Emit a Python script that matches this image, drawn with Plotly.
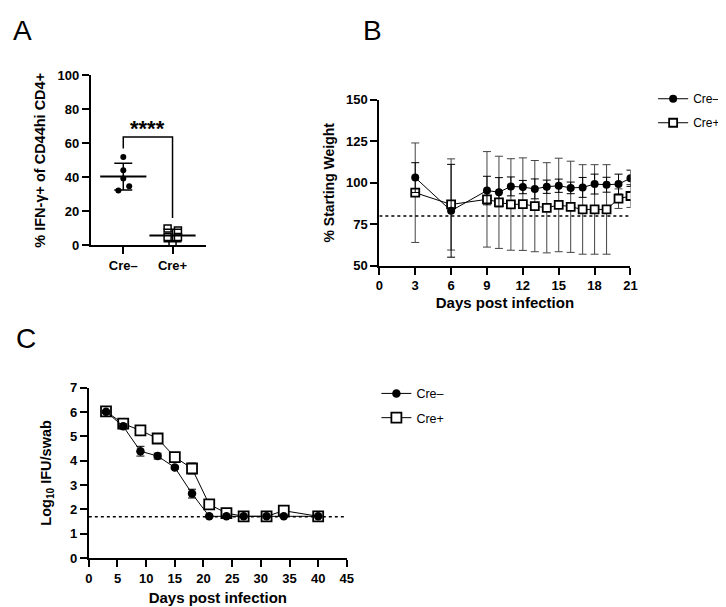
import numpy as np
import plotly.graph_objects as go

W, H = 726, 607
FONT = "Liberation Sans"

# ---------------- Panel A data ----------------
a_groups = ["Cre–", "Cre+"]
a_cre_neg = [51.9, 44.1, 39.3, 34.7, 32.2]
a_cre_pos = [9.8, 8.6, 4.8, 4.8, 0.6]
a_neg_jitter = [0.0, 0.0, 0.0, 0.12, -0.10]
a_pos_jitter = [-0.10, 0.11, -0.10, 0.11, 0.0]
a_yticks = [0, 20, 40, 60, 80, 100]
a_sig = "****"

# ---------------- Panel B data ----------------
b_days = [3, 6, 9, 10, 11, 12, 13, 14, 15, 16, 17, 18, 19, 20, 21]
b_neg = [103.1, 83.1, 95.3, 94.3, 97.8, 97.4, 96.3, 97.6, 98.2, 96.9, 97.2, 99.2, 98.8, 99.2, 102.7]
b_neg_sd = [9.0, 28.0, 8.6, 8.8, 5.7, 4.0, 6.0, 4.0, 4.0, 3.5, 6.0, 6.0, 4.5, 6.0, 4.9]
b_pos = [94.0, 86.9, 90.0, 88.2, 86.9, 87.1, 85.9, 84.9, 86.6, 85.5, 83.9, 83.9, 83.9, 90.4, 92.0]
b_pos_sd = [30.0, 27.5, 28.8, 27.8, 27.6, 27.9, 27.5, 27.2, 28.2, 27.5, 27.0, 27.0, 27.0, 5.9, 6.9]
b_threshold = 80
b_xticks = [0, 3, 6, 9, 12, 15, 18, 21]
b_yticks = [50, 75, 100, 125, 150]

# ---------------- Panel C data ----------------
c_days = [3, 6, 9, 12, 15, 18, 21, 24, 27, 31, 34, 40]
c_neg = [6.01, 5.41, 4.39, 4.19, 3.72, 2.65, 1.72, 1.72, 1.72, 1.72, 1.72, 1.72]
c_neg_sd = [0.05, 0.10, 0.20, 0.12, 0.06, 0.18, 0.03, 0.03, 0.0, 0.0, 0.03, 0.0]
c_pos = [6.02, 5.52, 5.24, 4.91, 4.15, 3.68, 2.21, 1.85, 1.72, 1.72, 1.95, 1.72]
c_pos_sd = [0.05, 0.08, 0.08, 0.08, 0.10, 0.22, 0.08, 0.05, 0.0, 0.0, 0.10, 0.0]
c_limit = 1.7
c_xticks = [0, 5, 10, 15, 20, 25, 30, 35, 40, 45]
c_yticks = [0, 1, 2, 3, 4, 5, 6, 7]


def px_x(p):
    return p / W


def px_y(p):
    return 1 - p / H


fig = go.Figure()

# ---------- Panel A ----------
xa_neg = [0 + j for j in a_neg_jitter]
xa_pos = [1 + j for j in a_pos_jitter]
fig.add_trace(go.Scatter(x=xa_neg, y=a_cre_neg, mode="markers", xaxis="x", yaxis="y",
                         marker=dict(symbol="circle", size=6, color="black"), showlegend=False))
fig.add_trace(go.Scatter(x=xa_pos, y=a_cre_pos, mode="markers", xaxis="x", yaxis="y",
                         marker=dict(symbol="square-open", size=7, color="black", line=dict(width=1.5)),
                         showlegend=False))
means = [float(np.mean(a_cre_neg)), float(np.mean(a_cre_pos))]
sds = [float(np.std(a_cre_neg, ddof=1)), float(np.std(a_cre_pos, ddof=1))]
fig.add_trace(go.Scatter(x=[0, 1], y=means, mode="markers", xaxis="x", yaxis="y",
                         marker=dict(symbol="line-ew", size=33, color="black", line=dict(width=2, color="black")),
                         error_y=dict(type="data", array=sds, color="black", thickness=1.5, width=9),
                         showlegend=False))
# significance bracket
fig.add_trace(go.Scatter(x=[0, 0, 1, 1], y=[57, 63.8, 63.8, 16], mode="lines", xaxis="x", yaxis="y",
                         line=dict(color="black", width=1.5), showlegend=False))

# ---------- Panel B ----------
fig.add_trace(go.Scatter(x=b_days, y=b_pos, mode="lines+markers", xaxis="x2", yaxis="y2", name="Cre+",
                         line=dict(color="black", width=1),
                         marker=dict(symbol="square", size=8, color="white", line=dict(width=1.8, color="black")),
                         error_y=dict(type="data", array=b_pos_sd, color="#444", thickness=1, width=4),
                         legend="legend", legendrank=2, legendgroup="bp"))
fig.add_trace(go.Scatter(x=b_days, y=b_neg, mode="lines+markers", xaxis="x2", yaxis="y2", name="Cre–",
                         line=dict(color="black", width=1),
                         marker=dict(symbol="circle", size=8, color="black"),
                         error_y=dict(type="data", array=b_neg_sd, color="black", thickness=1, width=4),
                         legend="legend", legendrank=1, legendgroup="bn"))

# ---------- Panel C ----------
fig.add_trace(go.Scatter(x=c_days, y=c_pos, mode="lines+markers", xaxis="x3", yaxis="y3", name="Cre+",
                         line=dict(color="black", width=1),
                         marker=dict(symbol="square", size=10, color="white", line=dict(width=1.8, color="black")),
                         error_y=dict(type="data", array=c_pos_sd, color="black", thickness=1, width=4),
                         legend="legend2", legendrank=2, legendgroup="cp"))
fig.add_trace(go.Scatter(x=c_days, y=c_neg, mode="lines+markers", xaxis="x3", yaxis="y3", name="Cre–",
                         line=dict(color="black", width=1),
                         marker=dict(symbol="circle", size=8.5, color="black"),
                         error_y=dict(type="data", array=c_neg_sd, color="black", thickness=1, width=4),
                         legend="legend2", legendrank=1, legendgroup="cn"))

tickfont = dict(family=FONT, size=13, color="black", weight="bold")
axis_common = dict(showline=True, linewidth=2, linecolor="black", ticks="outside", ticklen=7,
                   tickwidth=1.5, tickcolor="black", showgrid=False, zeroline=False,
                   tickfont=tickfont, fixedrange=True)

fig.update_layout(
    width=W, height=H, margin=dict(l=0, r=0, t=0, b=0),
    paper_bgcolor="white", plot_bgcolor="white",
    font=dict(family=FONT, color="black"),
    xaxis=dict(domain=[px_x(80), px_x(197)], range=[-0.66, 1.68], anchor="y",
               tickvals=[0, 1], ticktext=a_groups, **axis_common),
    yaxis=dict(domain=[px_y(236), px_y(62)], range=[0, 100], anchor="x", tickvals=a_yticks,
               title=dict(text="% IFN-γ+ of CD44hi CD4+", standoff=8,
                          font=dict(family=FONT, size=14.5, weight="bold", color="black")),
               **axis_common),
    xaxis2=dict(domain=[px_x(373), px_x(628)], range=[0, 21], anchor="y2", tickvals=b_xticks,
                title=dict(text="Days post infection", standoff=5,
                           font=dict(family=FONT, size=15, weight="bold", color="black")),
                **axis_common),
    yaxis2=dict(domain=[px_y(257), px_y(87)], range=[50, 150], anchor="x2", tickvals=b_yticks,
                title=dict(text="% Starting Weight", standoff=8,
                           font=dict(family=FONT, size=14, weight="bold", color="black")),
                **axis_common),
    xaxis3=dict(domain=[px_x(78), px_x(340)], range=[0, 45], anchor="y3", tickvals=c_xticks,
                title=dict(text="Days post infection", standoff=8,
                           font=dict(family=FONT, size=15, weight="bold", color="black")),
                **axis_common),
    yaxis3=dict(domain=[px_y(557), px_y(382)], range=[0, 7], anchor="x3", tickvals=c_yticks,
                title=dict(text="Log<sub>10</sub> IFU/swab", standoff=15,
                           font=dict(family=FONT, size=14.5, weight="bold", color="black")),
                **axis_common),
    legend=dict(x=px_x(651), y=px_y(71), xanchor="left", yanchor="top", itemwidth=30,
                font=dict(family=FONT, size=12, color="black"), tracegroupgap=5,
                bgcolor="rgba(0,0,0,0)"),
    legend2=dict(x=px_x(370), y=px_y(373), xanchor="left", yanchor="top", itemwidth=30,
                 font=dict(family=FONT, size=12.5, color="black"), tracegroupgap=5,
                 bgcolor="rgba(0,0,0,0)"),
    shapes=[
        dict(type="line", xref="x2", yref="y2", x0=0, x1=21, y0=b_threshold, y1=b_threshold,
             line=dict(color="black", width=1.5, dash="dot")),
        dict(type="line", xref="x3", yref="y3", x0=0, x1=45, y0=c_limit, y1=c_limit,
             line=dict(color="black", width=1.5, dash="dot")),
    ],
    annotations=[
        dict(text=a_sig, x=0.5, y=63.8, xref="x", yref="y", showarrow=False, yanchor="bottom",
             yshift=-6, font=dict(family=FONT, size=22, weight="bold", color="black")),
        dict(text="A", x=px_x(-1), y=px_y(-2.5), xref="paper", yref="paper", xanchor="left", yanchor="top",
             showarrow=False, font=dict(family=FONT, size=28, color="black")),
        dict(text="B", x=px_x(354), y=px_y(-2.5), xref="paper", yref="paper", xanchor="left", yanchor="top",
             showarrow=False, font=dict(family=FONT, size=28, color="black")),
        dict(text="C", x=px_x(2), y=px_y(314), xref="paper", yref="paper", xanchor="left", yanchor="top",
             showarrow=False, font=dict(family=FONT, size=28, color="black")),
    ],
)

fig.write_html("out.html")
